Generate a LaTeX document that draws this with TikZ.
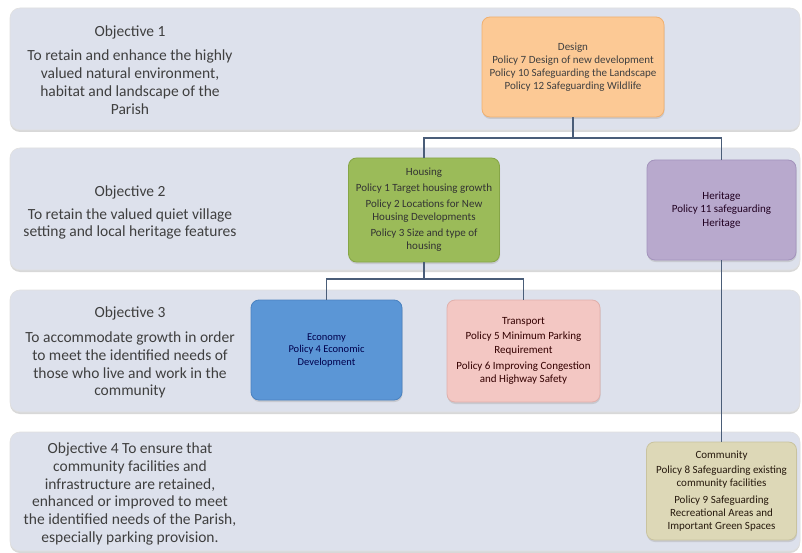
\documentclass[tikz,border=0pt]{standalone}
\usepackage{fontspec}
\setmainfont{Carlito}
\usetikzlibrary{shadows}
\definecolor{bandfill}{HTML}{DDE1EC}
\definecolor{objtext}{HTML}{3F3F3F}
\definecolor{conncol}{HTML}{4A5D78}
\definecolor{designfill}{HTML}{FCC995}
\definecolor{designdraw}{HTML}{F0B070}
\definecolor{housingfill}{HTML}{9BBB59}
\definecolor{housingdraw}{HTML}{86A547}
\definecolor{heritagefill}{HTML}{B8A9CD}
\definecolor{heritagedraw}{HTML}{A393BC}
\definecolor{econfill}{HTML}{5B96D6}
\definecolor{econdraw}{HTML}{4A82C0}
\definecolor{transfill}{HTML}{F3C7C3}
\definecolor{transdraw}{HTML}{E0B0AC}
\definecolor{commfill}{HTML}{DDD8B7}
\definecolor{commdraw}{HTML}{C9C39F}
\tikzset{
  band/.style={draw=black!12, fill=bandfill, rounded corners=10pt, line width=0.6pt,
    drop shadow={shadow xshift=0pt, shadow yshift=-2pt, fill=black!30, opacity=0.5}},
  objtxt/.style={text=objtext, align=center, font=\fontsize{15.5}{17.8}\selectfont, inner sep=0pt},
  pbox/.style={rounded corners=8pt, line width=0.8pt, align=center,
    font=\fontsize{11}{13.2}\selectfont, inner sep=2pt,
    drop shadow={shadow xshift=0.5pt, shadow yshift=-2pt, fill=black!35, opacity=0.4}},
  conn/.style={draw=conncol, line width=1.3pt}
}
\begin{document}
\begin{tikzpicture}[x=1pt, y=-1pt]
\useasboundingbox[fill=white] (0,0) rectangle (802,553);
% bands
\path[band] (10,8) rectangle (800,130);
\path[band] (10,148) rectangle (800,270);
\path[band] (10,290) rectangle (800,412);
\path[band] (10,432) rectangle (800,551);
% objective texts
\node[objtxt] (o1t) at (130,32) {Objective 1};
\node[objtxt] (o1) at (130,82) {To retain and enhance the highly\\valued natural environment,\\habitat and landscape of the\\Parish};
\node[objtxt] (o2t) at (130,192) {Objective 2};
\node[objtxt] (o2) at (130,224) {To retain the valued quiet village\\setting and local heritage features};
\node[objtxt] (o3t) at (130,313) {Objective 3};
\node[objtxt] (o3) at (130,365) {To accommodate growth in order\\to meet the identified needs of\\those who live and work in the\\community};
\node[objtxt] (o4) at (130,494) {Objective 4 To ensure that\\community facilities and\\infrastructure are retained,\\enhanced or improved to meet\\the identified needs of the Parish,\\especially parking provision.};
% policy boxes
\node[pbox, fill=designfill, draw=designdraw, text=black!75, minimum width=182pt, minimum height=100pt] (design) at (573,67)
  {Design\\Policy 7 Design of new development\\Policy 10 Safeguarding the Landscape\\Policy 12 Safeguarding Wildlife};
\node[pbox, fill=housingfill, draw=housingdraw, text=black!80, minimum width=151pt, minimum height=104pt] (housing) at (424,210)
  {Housing\\[2pt]Policy 1 Target housing growth\\[3pt]Policy 2 Locations for New\\Housing Developments\\[3pt]Policy 3 Size and type of\\housing};
\node[pbox, fill=heritagefill, draw=heritagedraw, text=black!75!violet, minimum width=149pt, minimum height=100pt] (heritage) at (721.5,210)
  {Heritage\\Policy 11 safeguarding\\Heritage};
\node[pbox, fill=econfill, draw=econdraw, text=blue!30!black, minimum width=151pt, minimum height=100pt, font=\fontsize{10.5}{12.5}\selectfont] (economy) at (326.5,350)
  {Economy\\Policy 4 Economic\\Development};
\node[pbox, fill=transfill, draw=transdraw, text=black!80!red, minimum width=153pt, minimum height=102pt] (transport) at (523.5,351)
  {Transport\\[2pt]Policy 5 Minimum Parking\\Requirement\\[3pt]Policy 6 Improving Congestion\\and Highway Safety};
\node[pbox, fill=commfill, draw=commdraw, text=black!80!brown, minimum width=150pt, minimum height=98pt] (community) at (721.5,491)
  {Community\\[2pt]Policy 8 Safeguarding existing\\community facilities\\[3pt]Policy 9 Safeguarding\\Recreational Areas and\\Important Green Spaces};
% connectors
\coordinate (j1) at (573,138);
\coordinate (j2) at (424,279);
\draw[conn] (design.south) -- (j1);
\draw[conn] (housing.north) |- (j1) -| (heritage.north);
\draw[conn] (housing.south) -- (j2);
\draw[conn] (economy.north) |- (j2) -| (transport.north);
\draw[conn] (heritage.south) -- (community.north);
\end{tikzpicture}
\end{document}
